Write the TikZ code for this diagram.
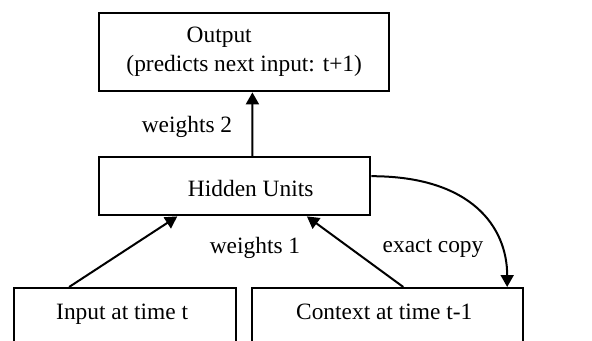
\documentclass[tikz,border=0pt]{standalone}
\usepackage{fontspec}
\setmainfont{Liberation Serif}
\usetikzlibrary{arrows.meta,calc}
\begin{document}
\begin{tikzpicture}[x=0.5pt,y=-0.5pt,
    unit/.style={draw,line width=1.2pt,inner sep=0pt,anchor=north west},
    link/.style={line width=1pt,-{Triangle[length=6pt,width=6.5pt]}},
    font=\fontsize{11.7}{14.5}\selectfont]
    \clip (0,0) rectangle (592,341);
    \node[unit,minimum width=145pt,minimum height=39pt,align=center] (output) at (98,12) {Output\hspace*{25pt}\\(predicts next input: t+1)};
    \node[unit,minimum width=135.5pt,text height=19.5pt,text depth=9.5pt] (hidden) at (98,156) {\hspace*{16pt}Hidden Units};
    \node[unit,minimum width=111pt,text height=15.5pt,text depth=26.5pt] (input) at (13,287) {Input at time t\hspace*{3pt}};
    \node[unit,minimum width=135.5pt,text height=15.5pt,text depth=26.5pt] (context) at (251,287) {Context at time t-1\hspace*{3.5pt}};
    \node (w2) at (187,127) {weights 2};
    \node (w1) at (255,248) {weights 1};
    \node (copy) at (433,248) {exact copy};
    \draw[link] ($(hidden.north west)!0.565!(hidden.north east)$) -- ($(output.south west)!0.528!(output.south east)$);
    \draw[link] ($(input.north west)!0.25!(input.north east)$) -- ($(hidden.south west)!0.29!(hidden.south east)$);
    \draw[link] ($(context.north west)!0.557!(context.north east)$) -- ($(hidden.south west)!0.764!(hidden.south east)$);
    \draw[link] ([yshift=5pt]hidden.east) .. controls +(50pt,0) and +(0,30pt) .. ($(context.north west)!0.937!(context.north east)$);
\end{tikzpicture}
\end{document}
